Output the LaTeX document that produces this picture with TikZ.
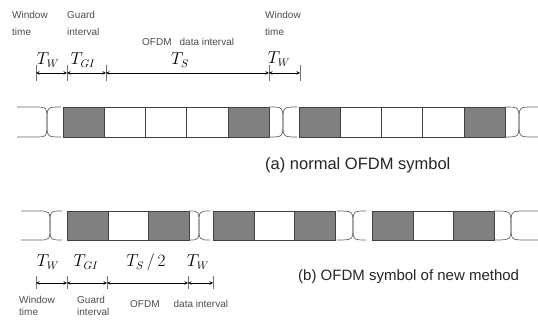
\documentclass[tikz,border=0pt]{standalone}
\usepackage{amsmath}
\usepackage{fontspec}
\setmainfont{Liberation Sans}
\usetikzlibrary{arrows}

\begin{document}
\begin{tikzpicture}[x=1pt, y=-1pt, >=stealth,
    gbox/.style = {draw=black!75, line width=0.6pt, fill=black!50},
    wbox/.style = {draw=black!75, line width=0.6pt, fill=white},
    win/.style = {draw=black!60, line width=0.7pt},
    dim/.style = {<->, line width=0.6pt},
    tick/.style = {draw=black!55, line width=0.6pt},
    small/.style = {font=\fontsize{10}{17}\selectfont, text=black!70, inner sep=0pt, anchor=north west, align=left},
    lab/.style = {font=\fontsize{16}{16}\selectfont, inner sep=0pt, anchor=base},
    capt/.style = {text=black!85, inner sep=0pt, anchor=base west}]
    \useasboundingbox (0,0) rectangle (538,320);

    % Boxes
    \foreach \k/\s in {0/gbox, 1/wbox, 2/wbox, 3/wbox, 4/gbox} {
        \draw[\s] (63+41.2*\k,107) rectangle ++(41.2,30);
        \draw[\s] (299+41.2*\k,107) rectangle ++(41.2,30);
    }
    \foreach \x in {67, 213, 372} {
        \draw[gbox] (\x,211) rectangle ++(40.8,29);
        \draw[wbox] (\x+40.8,211) rectangle ++(40.8,29);
        \draw[gbox] (\x+81.6,211) rectangle ++(40.8,29);
    }

    % Windows
    \draw[win] (17,107) -- (35,107) .. controls (47,107) .. (47,122) .. controls (47,137) .. (35,137) -- (17,137);
    \draw[win] (61,107) .. controls (47,107) .. (47,122) .. controls (47,137) .. (61,137);
    \draw[win] (269,107) .. controls (283,107) .. (283,122) .. controls (283,137) .. (269,137);
    \draw[win] (297,107) .. controls (283,107) .. (283,122) .. controls (283,137) .. (297,137);
    \draw[win] (505,107) .. controls (519,107) .. (519,122) .. controls (519,137) .. (505,137);
    \draw[win] (538,107) -- (533,107) .. controls (519,107) .. (519,122) .. controls (519,137) .. (533,137) -- (538,137);

    \draw[win] (21,211) -- (39,211) .. controls (50,211) .. (50,225.5) .. controls (50,240) .. (39,240) -- (21,240);
    \draw[win] (62,211) .. controls (50,211) .. (50,225.5) .. controls (50,240) .. (62,240);
    \draw[win] (189,211) .. controls (199,211) .. (199,225.5) .. controls (199,240) .. (189,240);
    \draw[win] (210,211) .. controls (199,211) .. (199,225.5) .. controls (199,240) .. (210,240);
    \draw[win] (337,211) .. controls (353,211) .. (353,225.5) .. controls (353,240) .. (337,240);
    \draw[win] (366,211) .. controls (353,211) .. (353,225.5) .. controls (353,240) .. (366,240);
    \draw[win] (494,211) .. controls (511,211) .. (511,225.5) .. controls (511,240) .. (494,240);
    \draw[win] (538,211) -- (526,211) .. controls (511,211) .. (511,225.5) .. controls (511,240) .. (526,240) -- (538,240);

    % Dimension marks
    \foreach \n/\x in {ta1/36, ta2/67, ta3/106, ta4/269, ta5/300} {
        \coordinate (\n) at (\x,73);
        \draw[tick] (\x,65) -- (\x,81);
    }
    \foreach \n/\x in {tb1/36, tb2/67, tb3/107, tb4/188, tb5/213} {
        \coordinate (\n) at (\x,283);
        \draw[tick] (\x,276) -- (\x,289);
    }
    \draw[dim] (ta1) -- (ta2);
    \draw[dim] (ta2) -- (ta3);
    \draw[dim] (ta3) -- (ta4);
    \draw[dim] (ta4) -- (ta5);
    \draw[dim] (tb1) -- (tb2);
    \draw[dim] (tb2) -- (tb3);
    \draw[dim] (tb3) -- (tb4);
    \draw[dim] (tb4) -- (tb5);

    % Labels
    \node[lab] (twa1) at (48,65) {$T_W$};
    \node[lab] (tgia) at (83,65) {$T_{GI}$};
    \node[lab] (tsa) at (180,65) {$T_S$};
    \node[lab] (twa2) at (279,64) {$T_W$};
    \node[lab] (twb1) at (48,267) {$T_W$};
    \node[lab] (tgib) at (86,267) {$T_{GI}$};
    \node[lab] (tsb) at (146,267) {$T_S\,/\,2$};
    \node[lab] (twb2) at (198,267) {$T_W$};

    \node[small] (wina1) at (12,11) {Window\\time};
    \node[small] (gina) at (67,11) {Guard\\interval};
    \node[small] (dina) at (142,38) {OFDM\hspace{8pt}data interval};
    \node[small] (wina2) at (265,11) {Window\\time};
    \node[small, font=\fontsize{10}{12.5}\selectfont] (winb) at (19,296) {Window\\time};
    \node[small, font=\fontsize{10}{12.5}\selectfont] (ginb) at (77,296) {Guard\\interval};
    \node[small] (dinb) at (130,300) {OFDM\hspace{14pt}data interval};

    \node[capt, font=\fontsize{16.5}{17}\selectfont] (capa) at (265,170) {(a) normal OFDM symbol};
    \node[capt, font=\fontsize{15}{16}\selectfont] (capb) at (298,281) {(b) OFDM symbol of new method};
\end{tikzpicture}
\end{document}
